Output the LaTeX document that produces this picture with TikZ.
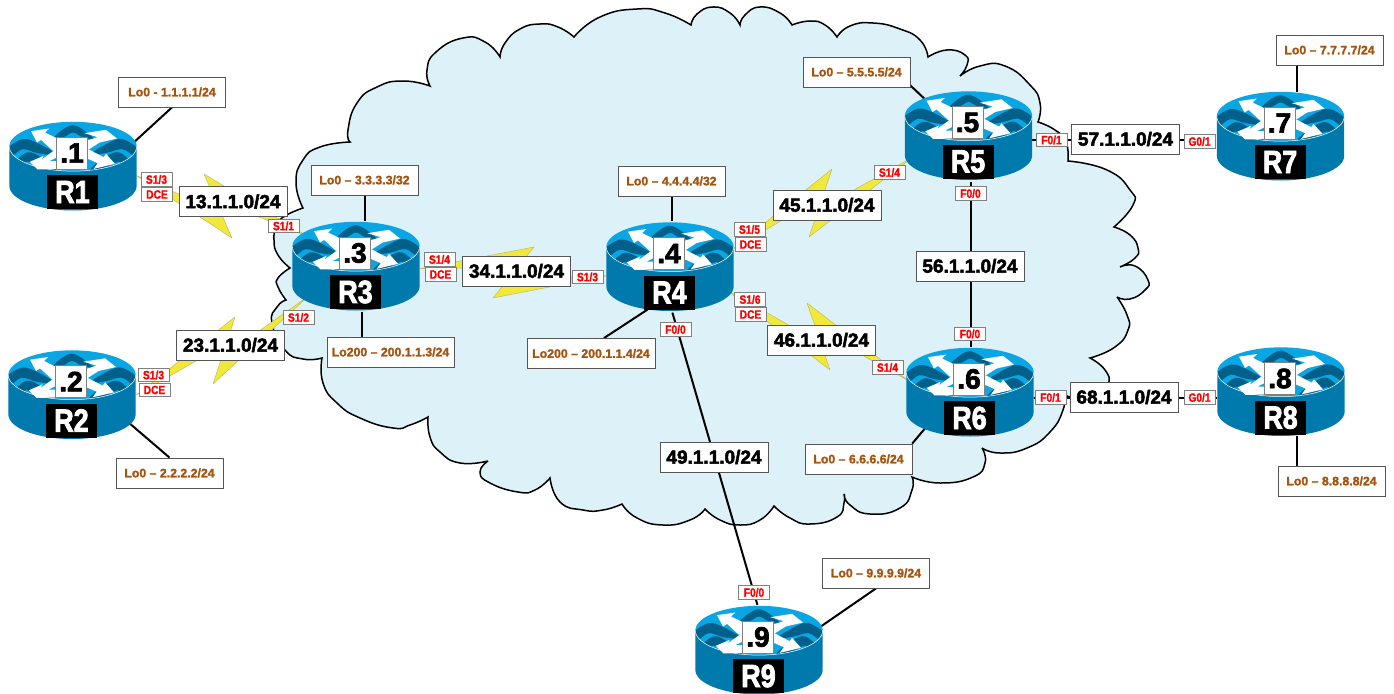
\documentclass[tikz,border=0pt]{standalone}
\usepackage{fontspec}
\usepackage{graphicx}
\usetikzlibrary{calc,shapes.geometric}
\setmainfont{Liberation Sans}
\newfontfamily\fat{Liberation Sans Bold}
\newfontfamily\semi{Liberation Sans Bold}
\newcommand{\strokeon}[1]{\special{pdf:code 2 Tr #1 w}}
\newcommand{\strokeoff}{\special{pdf:code 0 Tr}}
\definecolor{cloudfill}{HTML}{DDF2F8}
\definecolor{toplight}{HTML}{0AA6E4}
\definecolor{wavedark}{HTML}{00608A}
\definecolor{bodyblue}{HTML}{0079AC}
\definecolor{brownlab}{HTML}{A5540F}
\definecolor{boltyel}{HTML}{F1E83A}
\definecolor{edgegray}{HTML}{555555}
\pgfdeclarelayer{cloudlayer}
\pgfdeclarelayer{linklayer}
\pgfsetlayers{cloudlayer,linklayer,main}
\tikzset{
  netbox/.style={draw=edgegray,line width=.8pt,fill=white,minimum width=108pt,minimum height=30pt,inner sep=0pt,font=\fat\fontsize{19}{19}\selectfont,execute at begin node=\strokeon{0.5},execute at end node=\strokeoff},
  lobox/.style={draw=edgegray,line width=.8pt,fill=white,minimum width=107pt,minimum height=30pt,inner sep=0pt,text=brownlab,font=\semi\fontsize{12.3}{12.3}\selectfont,execute at begin node=\strokeon{0.2},execute at end node=\strokeoff},
  tagbox/.style={draw=gray,line width=.7pt,fill=white,minimum width=31pt,minimum height=13.5pt,inner sep=0pt,text=red,font=\semi\fontsize{12}{12}\selectfont,execute at begin node=\strokeon{0.2},execute at end node=\strokeoff},
  routerzone/.style={ellipse,minimum width=128pt,minimum height=91pt,inner sep=0pt},
  dotbox/.style={draw=gray,line width=.7pt,fill=white,minimum width=31pt,minimum height=32pt,inner sep=0pt,font=\fat\fontsize{28}{28}\selectfont,execute at begin node=\strokeon{0.7},execute at end node=\strokeoff},
  namebox/.style={fill=black,text=white,minimum width=51pt,minimum height=34pt,inner sep=0pt,font=\fat\fontsize{32}{32}\selectfont,execute at begin node=\strokeon{0.9},execute at end node=\strokeoff},
  linkline/.style={line width=2pt,black},
  boltshape/.style={fill=boltyel,draw=gray!50!boltyel,line width=.4pt,line join=round}
}
\newcommand{\tagtxt}[1]{\scalebox{.85}[1]{#1}}
\newcommand{\routerart}[4]{%
  \begin{scope}[xshift=#2pt,yshift=-#3pt,x=.33333pt,y=-.33333pt,shift={(-206,-86)}]
    \fill[bodyblue] (15,86) -- (15,204) arc[start angle=180,end angle=0,x radius=191,y radius=74] -- (397,86) -- cycle;
    \fill[toplight] (206,86) ellipse[x radius=191,y radius=74];
    \begin{scope}
      \clip (206,86) ellipse[x radius=191,y radius=74];
      \fill[wavedark] plot[smooth cycle,tension=.6] coordinates {(145,62)(205,22)(268,62)(235,58)(206,44)(178,58)};
      \fill[wavedark] plot[smooth cycle,tension=.6] coordinates {(10,92)(55,64)(100,76)(155,110)(100,106)(55,94)(20,116)};
      \fill[wavedark] plot[smooth cycle,tension=.6] coordinates {(28,140)(68,104)(110,118)(155,156)(100,146)(68,131)(50,154)};
      \fill[wavedark] plot[smooth cycle,tension=.6] coordinates {(400,92)(355,64)(315,74)(258,110)(310,104)(355,94)(392,116)};
      \fill[wavedark] plot[smooth cycle,tension=.6] coordinates {(384,140)(345,104)(305,116)(258,156)(310,146)(345,131)(362,154)};
    \end{scope}
    \draw[white,line width=.5pt] (15,86) arc[start angle=180,end angle=0,x radius=191,y radius=74];
    \fill[white] (80,40)--(135,32)--(122,44)--(172,68)--(172,98)--(145,98)--(110,66)--(98,74)--cycle;
    \fill[white] (248,68)--(280,58)--(240,46)--(305,36)--(338,62)--(286,74)--(248,98)--cycle;
    \fill[white] (76,132)--(118,114)--(112,125)--(160,90)--(170,112)--(135,130)--(170,130)--(170,153)--(100,155)--cycle;
    \fill[white] (248,92)--(298,118)--(305,108)--(332,138)--(268,153)--(280,136)--(248,122)--cycle;
  \end{scope}
  \node[routerzone] (#1) at (#2,#3+20) {};
  \node[dotbox] (#1dot) at (#2-1,#3+6.5) {#4};
  \node[namebox] (#1name) at (#2-0.5,#3+45.5) {\scalebox{.84}[1]{#1}};
}
\newcommand{\boltlink}[4]{%
  \begin{pgfonlayer}{linklayer}
  \fill[boltshape] (#1) -- (#2) -- ($(#2)!.6!(#3)$) -- (#4) -- (#3) -- ($(#2)!.4!(#3)$) -- cycle;
  \end{pgfonlayer}%
}
\begin{document}
\begin{tikzpicture}[x=1pt,y=-1pt]
\useasboundingbox (0,0) rectangle (1394,693);
\begin{pgfonlayer}{cloudlayer}
\fill[white] (0,0) rectangle (1394,693);
\draw[fill=cloudfill,line width=1.5pt,line join=miter,miter limit=4]
  plot[smooth,tension=.9] coordinates {(303,208)(296,183)(303,160)(320,147)(350,142)}
  -- plot[smooth,tension=.9] coordinates {(350,142)(348,130)(357,103)(377,87)(403,81)(430,86)}
  -- plot[smooth,tension=.9] coordinates {(430,86)(427,70)(436,52)(463,38)(485,42)(500,57)}
  -- plot[smooth,tension=.9] coordinates {(500,57)(505,43)(520,29)(540,24)(558,27)(574,37)}
  -- plot[smooth,tension=.9] coordinates {(574,37)(600,17)(637,9)(665,13)(691,25)}
  -- plot[smooth,tension=.9] coordinates {(691,25)(697,14)(713,7)(730,13)(740,25)}
  -- plot[smooth,tension=.9] coordinates {(740,25)(745,15)(760,7)(780,13)(792,25)}
  -- plot[smooth,tension=.9] coordinates {(792,25)(810,21)(825,25)(837,37)}
  -- plot[smooth,tension=.9] coordinates {(837,37)(850,26)(873,23)(900,29)(920,40)(928,57)}
  -- plot[smooth,tension=.9] coordinates {(928,57)(947,50)(965,55)(967,65)(960,76)}
  -- plot[smooth,tension=.9] coordinates {(960,76)(980,66)(1005,66)(1030,85)(1040,103)(1038,122)}
  -- plot[smooth,tension=.9] coordinates {(1038,122)(1055,130)(1066,142)(1068,161)}
  -- plot[smooth,tension=.9] coordinates {(1068,161)(1107,170)(1130,190)(1133,205)(1114,227)}
  -- plot[smooth,tension=.9] coordinates {(1114,227)(1130,235)(1138,248)(1135,258)(1120,267)}
  -- plot[smooth,tension=.9] coordinates {(1120,267)(1135,266)(1148,280)(1145,290)(1130,299)(1117,297)}
  -- plot[smooth,tension=.9] coordinates {(1117,297)(1127,315)(1128,330)(1115,347)(1090,358)}
  -- plot[smooth,tension=.9] coordinates {(1090,358)(1105,370)(1108,385)(1095,400)(1064,395)}
  -- plot[smooth,tension=.9] coordinates {(1064,395)(1063,410)(1050,432)(1027,448)(1000,453)(982,448)}
  -- plot[smooth,tension=.9] coordinates {(982,448)(985,463)(973,477)(940,483)(912,477)}
  -- plot[smooth,tension=.9] coordinates {(912,477)(912,490)(900,508)(870,514)(850,505)(844,494)}
  -- plot[smooth,tension=.9] coordinates {(844,494)(844,503)(837,517)(810,524)(790,518)(774,506)}
  -- plot[smooth,tension=.9] coordinates {(774,506)(760,520)(740,525)(720,520)(705,509)}
  -- plot[smooth,tension=.9] coordinates {(705,509)(690,520)(663,525)(637,518)(622,504)}
  -- plot[smooth,tension=.9] coordinates {(622,504)(603,510)(583,510)(560,502)(550,478)}
  -- plot[smooth,tension=.9] coordinates {(550,478)(535,490)(518,492)(490,483)(480,472)(488,461)}
  -- plot[smooth,tension=.9] coordinates {(488,461)(460,463)(440,452)(430,437)(428,417)}
  -- plot[smooth,tension=.9] coordinates {(428,417)(410,425)(393,428)(360,418)(337,403)(323,383)(322,358)}
  -- plot[smooth,tension=.9] coordinates {(322,358)(303,359)(285,350)(272,323)(277,307)(286,300)}
  -- plot[smooth,tension=.9] coordinates {(286,300)(278,287)(278,278)(290,268)}
  -- plot[smooth,tension=.9] coordinates {(290,268)(278,255)(274,240)(277,225)(285,216)(303,208)}
  -- cycle;
\end{pgfonlayer}

% routers
\routerart{R1}{73}{146.5}{.1}
\routerart{R2}{72}{375}{.2}
\routerart{R3}{356}{246.5}{.3}
\routerart{R4}{670}{247}{.4}
\routerart{R5}{968.5}{116}{.5}
\routerart{R6}{970}{372.5}{.6}
\routerart{R7}{1280.5}{116.5}{.7}
\routerart{R8}{1281}{372}{.8}
\routerart{R9}{759}{630.5}{.9}

% loopback labels
\node[lobox] (LoA) at (172,92) {Lo0 - 1.1.1.1/24};
\node[lobox] (LoB) at (169.5,473) {Lo0 – 2.2.2.2/24};
\node[lobox] (LoC) at (364.5,180) {Lo0 – 3.3.3.3/32};
\node[lobox,minimum width=127pt] (LoCb) at (390.5,352) {Lo200 – 200.1.1.3/24};
\node[lobox] (LoD) at (671.5,181) {Lo0 – 4.4.4.4/32};
\node[lobox,minimum width=128pt] (LoDb) at (591,353.5) {Lo200 – 200.1.1.4/24};
\node[lobox] (LoE) at (856.5,72) {Lo0 – 5.5.5.5/24};
\node[lobox] (LoF) at (858.5,459) {Lo0 – 6.6.6.6/24};
\node[lobox] (LoG) at (1329.5,50) {Lo0 – 7.7.7.7/24};
\node[lobox] (LoH) at (1331.5,481) {Lo0 – 8.8.8.8/24};
\node[lobox] (LoI) at (876,573) {Lo0 – 9.9.9.9/24};

% network labels
\node[netbox] (n13) at (233,201.5) {13.1.1.0/24};
\node[netbox] (n23) at (230.5,345) {23.1.1.0/24};
\node[netbox] (n34) at (516.5,271) {34.1.1.0/24};
\node[netbox] (n45) at (827,205) {45.1.1.0/24};
\node[netbox] (n46) at (821.5,340) {46.1.1.0/24};
\node[netbox] (n56) at (970,266) {56.1.1.0/24};
\node[netbox] (n57) at (1125.5,139) {57.1.1.0/24};
\node[netbox] (n68) at (1124,397) {68.1.1.0/24};
\node[netbox] (n49) at (714,457) {49.1.1.0/24};

% interface tags
\node[tagbox] (tA) at (156.5,179.5) {\tagtxt{S1/3}};
\node[tagbox] (tAd) at (157,194.5) {\tagtxt{DCE}};
\node[tagbox] (tB) at (153.5,375) {\tagtxt{S1/3}};
\node[tagbox] (tBd) at (154.5,390) {\tagtxt{DCE}};
\node[tagbox] (tCa) at (283.5,226) {\tagtxt{S1/1}};
\node[tagbox] (tCb) at (298.5,317.5) {\tagtxt{S1/2}};
\node[tagbox] (tCc) at (439.5,259.5) {\tagtxt{S1/4}};
\node[tagbox] (tCd) at (440.5,274.5) {\tagtxt{DCE}};
\node[tagbox] (tDa) at (587.5,277) {\tagtxt{S1/3}};
\node[tagbox] (tDb) at (749.5,229.5) {\tagtxt{S1/5}};
\node[tagbox] (tDc) at (750.5,244.5) {\tagtxt{DCE}};
\node[tagbox] (tDe) at (750,299.5) {\tagtxt{S1/6}};
\node[tagbox] (tDf) at (750.5,314.5) {\tagtxt{DCE}};
\node[tagbox] (tDg) at (675.5,329.5) {\tagtxt{F0/0}};
\node[tagbox] (tEa) at (889.5,172.5) {\tagtxt{S1/4}};
\node[tagbox] (tEb) at (970.5,193.5) {\tagtxt{F0/0}};
\node[tagbox] (tEc) at (1051.5,140) {\tagtxt{F0/1}};
\node[tagbox] (tFa) at (887.5,367.5) {\tagtxt{S1/4}};
\node[tagbox] (tFb) at (970,334) {\tagtxt{F0/0}};
\node[tagbox] (tFc) at (1050.5,397.5) {\tagtxt{F0/1}};
\node[tagbox] (tG) at (1199.5,141.5) {\tagtxt{G0/1}};
\node[tagbox] (tH) at (1199.5,397.5) {\tagtxt{G0/1}};
\node[tagbox] (tI) at (754,592.5) {\tagtxt{F0/0}};

% lightning links
\coordinate (ca) at (232,238); \coordinate (cb) at (204,174);
\boltlink{R1.-8}{ca}{cb}{R3.148}
\coordinate (da) at (235,317); \coordinate (db) at (213,384);
\boltlink{R2.east}{da}{db}{R3.212}
\coordinate (ea) at (534,247); \coordinate (eb) at (493,298);
\boltlink{R3.-2}{ea}{eb}{R4.188}
\coordinate (fa) at (832,169); \coordinate (fb) at (809,237);
\boltlink{R4.15}{fa}{fb}{R5.201}
\coordinate (ga) at (830,370); \coordinate (gb) at (807,303);
\boltlink{R4.-22}{ga}{gb}{R6.169}

% black links
\begin{pgfonlayer}{linklayer}
\draw[linkline] (LoA.south) -- (R1.20);
\draw[linkline] (LoB.north) -- (R2.-25);
\draw[linkline] (LoC.south) -- (LoC.south |- R3.north);
\draw[linkline] (R3.-82) -- (R3.-82 |- LoCb.north);
\draw[linkline] (LoD.south) -- (LoD.south |- R4.north);
\draw[linkline] (LoDb.50) -- (R4.-118);
\draw[linkline] (R4.-87) -- (R9.92);
\draw[linkline] (LoE.-14) -- (R5.140);
\draw[linkline] (R5.-87) -- (R5.-87 |- R6.north);
\draw[linkline] (R5.-4) -- (R5.-4 -| R7.west);
\draw[linkline] (R6.-5) -- (R6.-5 -| R8.west);
\draw[linkline] (LoF.16) -- (R6.-142);
\draw[linkline] (LoG.south -| R7.70) -- (R7.70);
\draw[linkline] (LoH.north -| R8.-70) -- (R8.-70);
\draw[linkline] (LoI.south) -- (R9.20);
\end{pgfonlayer}
\end{tikzpicture}
\end{document}
